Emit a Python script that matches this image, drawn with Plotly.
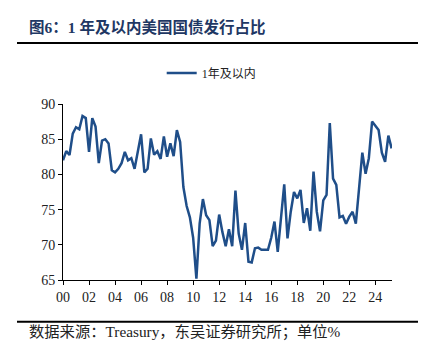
import plotly.graph_objects as go

# Quarterly data, 2000Q1 .. 2025Q2
start_year = 2000
share_1y = [
    82.0, 83.3, 82.75, 85.8, 86.7, 86.4, 88.3, 88.0, 83.2, 88.0,
    86.8, 81.6, 84.8, 85.0, 84.4, 80.6, 80.3, 80.8, 81.6, 83.2,
    82.0, 82.3, 80.8, 83.2, 85.7, 80.3, 80.8, 85.1, 82.8, 83.3,
    82.2, 85.4, 82.5, 84.4, 82.6, 86.3, 84.6, 78.2, 75.5, 73.9,
    71.0, 65.2, 73.0, 76.5, 74.2, 73.5, 69.8, 70.6, 74.3, 71.8,
    69.8, 72.2, 69.8, 77.7, 71.6, 69.3, 73.1, 67.6, 67.5, 69.5,
    69.6, 69.3, 69.3, 69.3, 71.0, 73.3, 69.0, 74.0, 78.6, 70.9,
    74.7, 77.5, 76.6, 77.8, 73.1, 75.2, 72.0, 80.4, 74.7, 71.9,
    76.3, 77.1, 87.3, 79.4, 78.5, 73.9, 74.1, 73.0, 74.0, 74.7,
    73.0, 78.0, 83.1, 80.1, 82.3, 87.5, 86.9, 86.3, 83.1, 81.8,
    85.5, 83.7,
]
tick_vals = [0, 2, 4, 6, 8, 10, 12, 14, 16, 18, 20, 22, 24]
tick_text = ["00", "02", "04", "06", "08", "10", "12", "14", "16", "18", "20", "22", "24"]
y_ticks = [65, 70, 75, 80, 85, 90]

x_vals = [i / 4 for i in range(len(share_1y))]

SERIF = "Liberation Serif, Noto Serif CJK SC, Noto Sans CJK SC, serif"
CJK = "Liberation Serif, Noto Sans CJK SC, sans-serif"
BLUE = "#1f4e89"

fig = go.Figure()
fig.add_trace(go.Scatter(
    x=x_vals, y=share_1y, mode="lines", name="1年及以内",
    line=dict(color=BLUE, width=2.5),
))

fig.update_layout(
    width=420, height=352,
    margin=dict(l=55, r=36, t=96, b=80, autoexpand=False),
    paper_bgcolor="white", plot_bgcolor="white",
    showlegend=True,
    legend=dict(orientation="h", x=0.30, y=1.176, xanchor="left", yanchor="middle",
                font=dict(family=CJK, size=12, color="#222"),
                bgcolor="rgba(0,0,0,0)"),
    xaxis=dict(range=[0, 25.28], tickvals=tick_vals, ticktext=tick_text,
               showgrid=False, zeroline=False, showline=True, linecolor="black",
               linewidth=1, ticks="outside", ticklen=4, tickcolor="black",
               tickfont=dict(family=SERIF, size=14, color="#222")),
    yaxis=dict(range=[65, 90], tickvals=y_ticks, showgrid=False, zeroline=False,
               showline=True, linecolor="black", linewidth=1, ticks="outside",
               ticklen=4, tickcolor="black",
               tickfont=dict(family=SERIF, size=14, color="#222")),
)

# Title
fig.add_annotation(xref="paper", yref="paper", x=-0.1094, y=1.4375,
                   xanchor="left", yanchor="middle", showarrow=False,
                   text="<b>图6：1 年及以内美国国债发行占比</b>",
                   font=dict(family=CJK, size=15.5, color="#1f3864"))
# Rule lines
fig.add_shape(type="line", xref="paper", yref="paper", x0=-0.1398, x1=1.079,
              y0=1.3466, y1=1.3466, line=dict(color="black", width=2))
fig.add_shape(type="line", xref="paper", yref="paper", x0=-0.1398, x1=1.079,
              y0=-0.237, y1=-0.237, line=dict(color="black", width=2))
# Source
fig.add_annotation(xref="paper", yref="paper", x=-0.1094, y=-0.2955,
                   xanchor="left", yanchor="middle", showarrow=False,
                   text="数据来源：Treasury，东吴证券研究所；单位%",
                   font=dict(family=CJK, size=15.3, color="#222"))

fig.write_html("out.html")
